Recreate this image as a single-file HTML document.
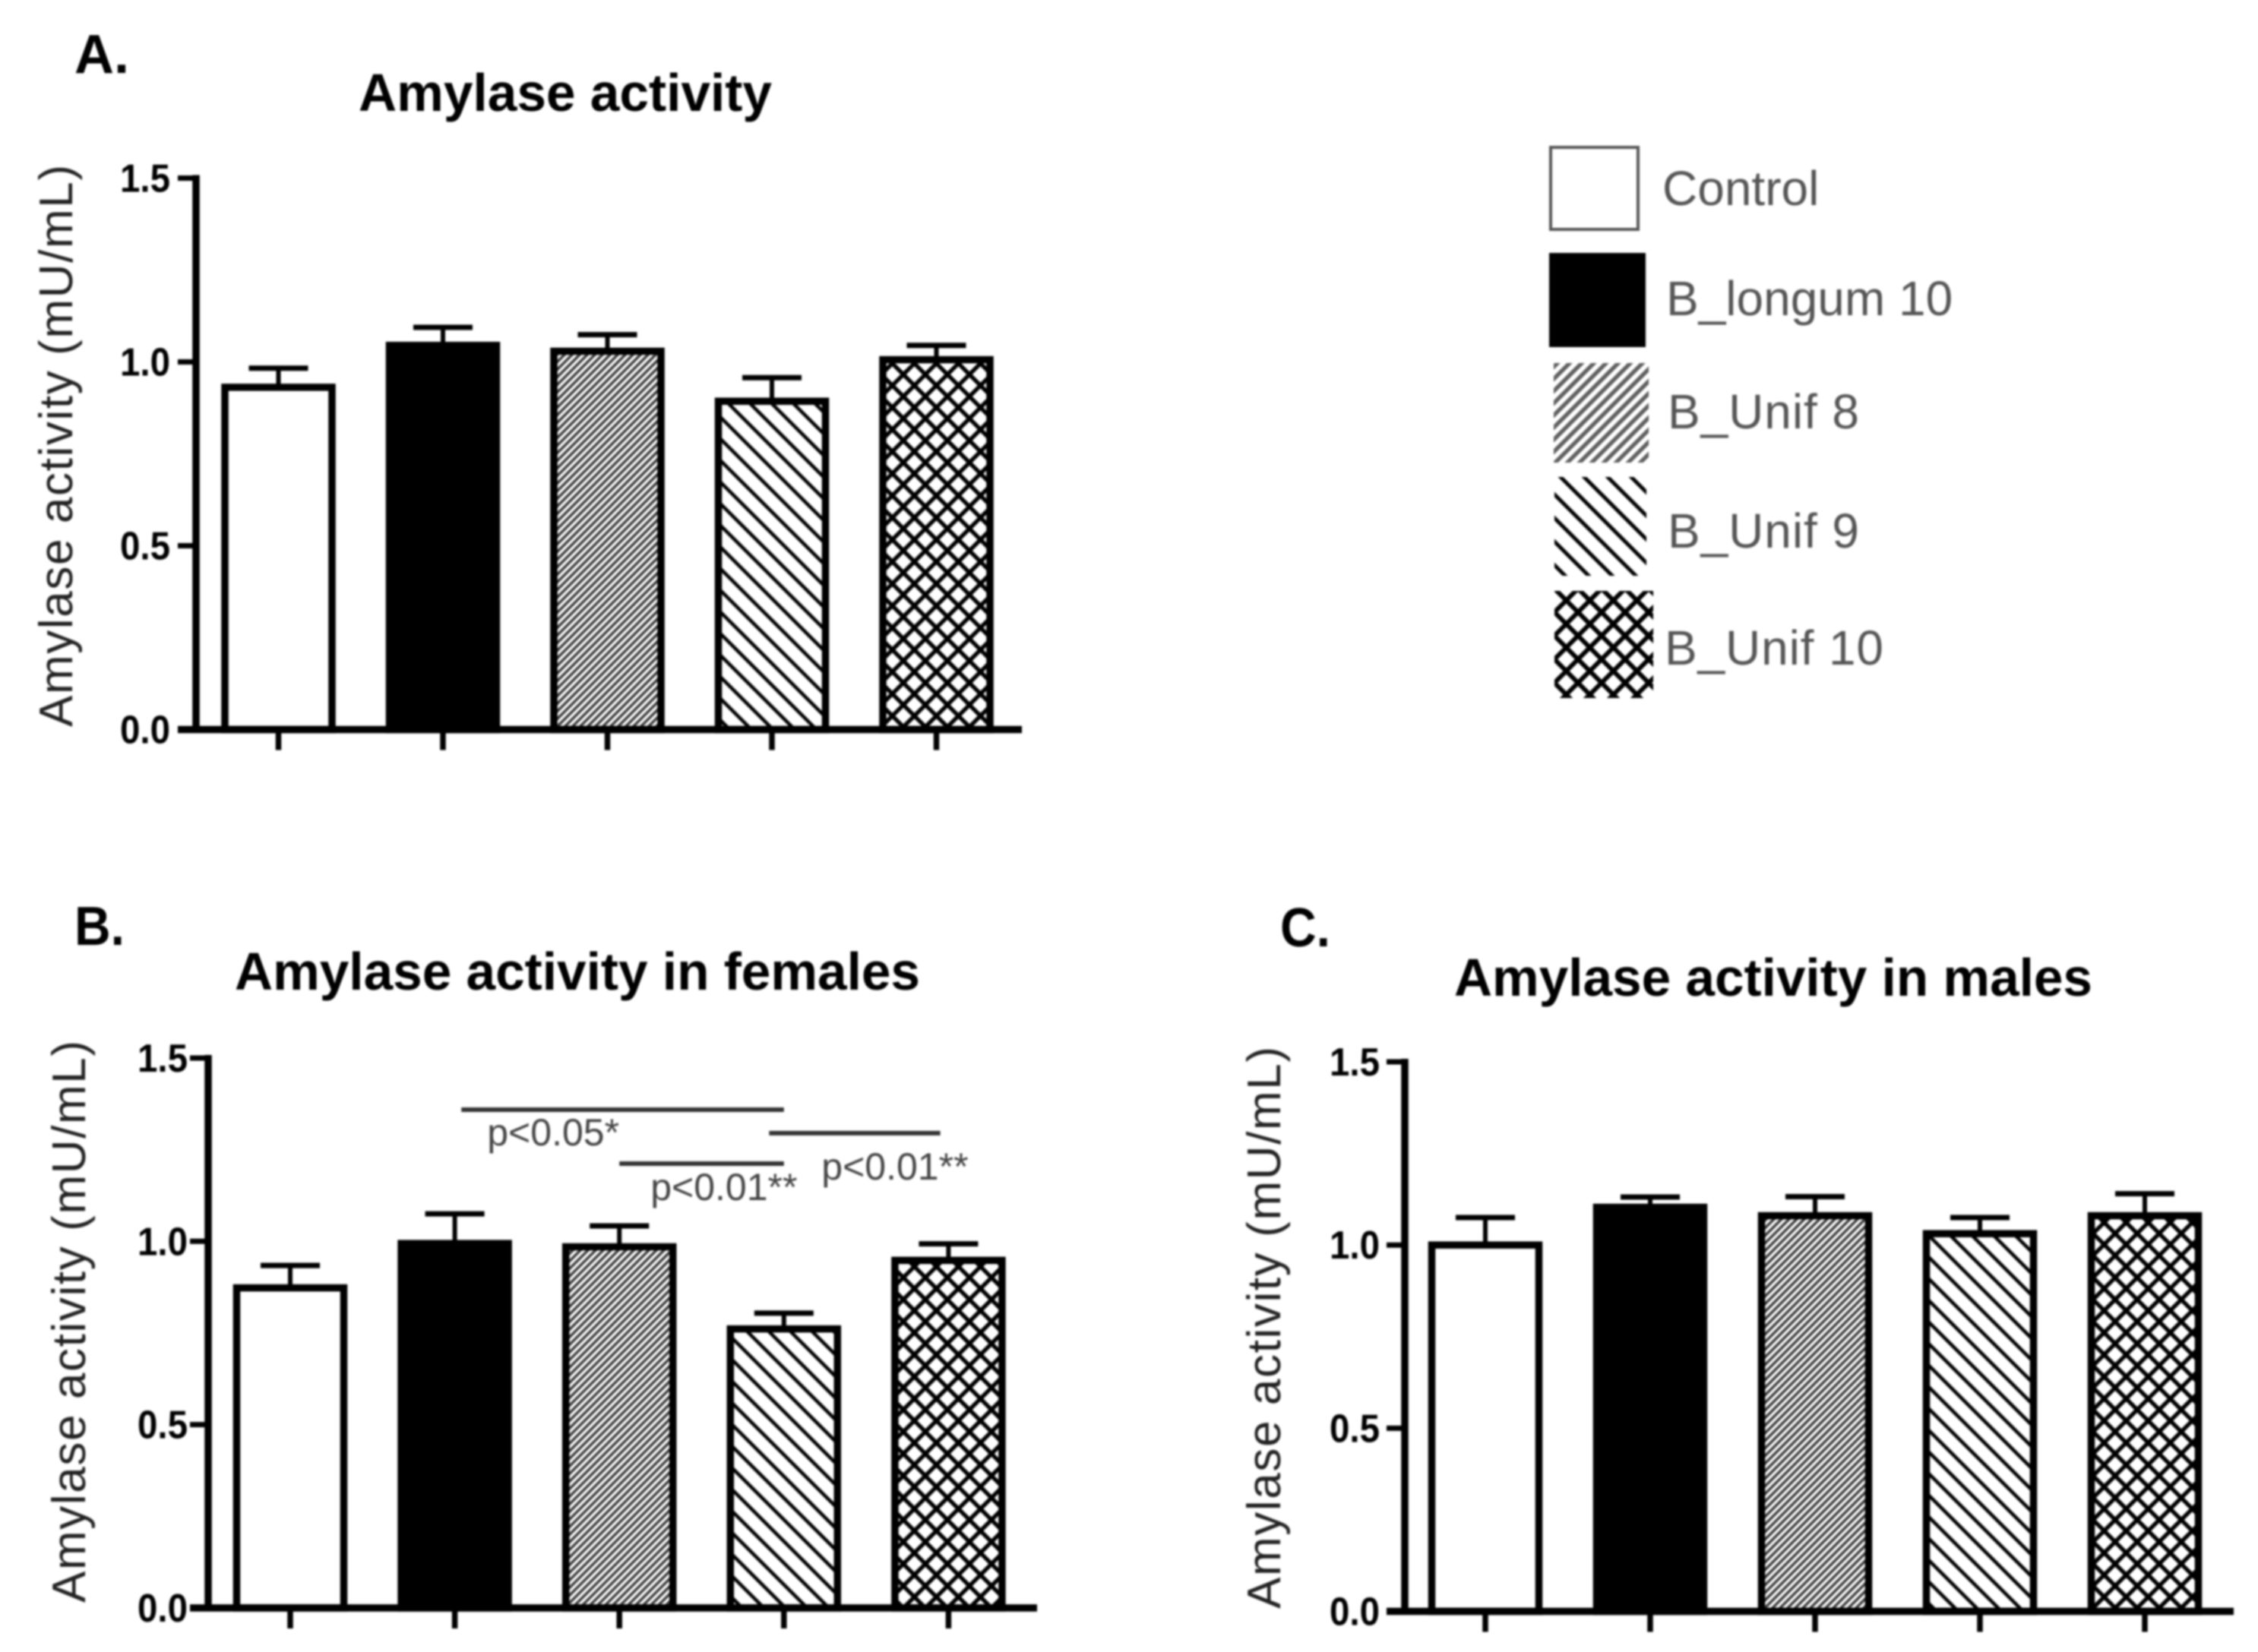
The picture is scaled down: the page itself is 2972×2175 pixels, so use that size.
<!DOCTYPE html>
<html lang="en">
<head>
<meta charset="utf-8">
<title>Amylase activity</title>
<style>
html,body{margin:0;padding:0;background:#fff;}
svg{display:block;filter:blur(1.4px);}
text{font-family:"Liberation Sans",sans-serif;}
</style>
</head>
<body>
<svg id="chart" xmlns="http://www.w3.org/2000/svg" width="2972" height="2175" viewBox="0 0 2972 2175">
<defs>
<pattern id="hatch-fine" patternUnits="userSpaceOnUse" width="10" height="10">
<rect width="10" height="10" fill="#fff"/>
<path d="M-3,3 L3,-3 M-3,13 L13,-3 M7,13 L13,7" stroke="#3a3a3a" stroke-width="3.6" fill="none"/>
</pattern>
<pattern id="hatch-wide" patternUnits="userSpaceOnUse" width="28.5" height="28.5">
<rect width="28.5" height="28.5" fill="#fff"/>
<path d="M-6,-6 L34.5,34.5 M-6,22.5 L6,34.5 M22.5,-6 L34.5,6" stroke="#000" stroke-width="4.6" fill="none"/>
</pattern>
<pattern id="hatch-cross" patternUnits="userSpaceOnUse" width="29" height="29">
<rect width="29" height="29" fill="#fff"/>
<path d="M-5,-5 L34,34 M-5,34 L34,-5" stroke="#000" stroke-width="5.4" fill="none"/>
</pattern>
<pattern id="legend-hatch-fine" patternUnits="userSpaceOnUse" width="16" height="16">
<rect width="16" height="16" fill="#fff"/>
<path d="M-4,4 L4,-4 M-4,20 L20,-4 M12,20 L20,12" stroke="#5f5f5f" stroke-width="5.4" fill="none"/>
</pattern>
<pattern id="legend-hatch-wide" patternUnits="userSpaceOnUse" width="31" height="31">
<rect width="31" height="31" fill="#fff"/>
<path d="M-6,-6 L37,37 M-6,25 L6,37 M25,-6 L37,6" stroke="#000" stroke-width="5" fill="none"/>
</pattern>
<pattern id="legend-hatch-cross" patternUnits="userSpaceOnUse" width="31" height="31">
<rect width="31" height="31" fill="#fff"/>
<path d="M-5,-5 L36,36 M-5,36 L36,-5" stroke="#000" stroke-width="6" fill="none"/>
</pattern>
</defs>
<rect width="2972" height="2175" fill="#fff"/>

<text x="98" y="96" font-size="72" font-weight="700" textLength="72" lengthAdjust="spacingAndGlyphs">A.</text>
<text x="98" y="1244" font-size="72" font-weight="700" textLength="66" lengthAdjust="spacingAndGlyphs">B.</text>
<text x="1685" y="1246" font-size="72" font-weight="700" textLength="66" lengthAdjust="spacingAndGlyphs">C.</text>

<text x="472" y="146" font-size="70" font-weight="700" textLength="544" lengthAdjust="spacingAndGlyphs">Amylase activity</text>
<text x="309" y="1303" font-size="70" font-weight="700" textLength="902" lengthAdjust="spacingAndGlyphs">Amylase activity in females</text>
<text x="1914" y="1311" font-size="70" font-weight="700" textLength="840" lengthAdjust="spacingAndGlyphs">Amylase activity in males</text>

<g id="legend">
<rect x="2041" y="194" width="115" height="108" fill="#fff" stroke="#555" stroke-width="4"/>
<rect x="2039" y="333" width="127" height="124" fill="#000"/>
<rect x="2045" y="478" width="125" height="131" fill="url(#legend-hatch-fine)"/>
<rect x="2046" y="628" width="121" height="130" fill="url(#legend-hatch-wide)"/>
<rect x="2046" y="778" width="130" height="141" fill="url(#legend-hatch-cross)"/>
<text x="2188" y="270" font-size="64" fill="#555">Control</text>
<text x="2193" y="415" font-size="64" fill="#555">B_longum 10</text>
<text x="2195" y="564" font-size="64" fill="#555" textLength="252" lengthAdjust="spacing">B_Unif 8</text>
<text x="2195" y="721" font-size="64" fill="#555" textLength="252" lengthAdjust="spacing">B_Unif 9</text>
<text x="2191" y="875" font-size="64" fill="#555" textLength="288" lengthAdjust="spacing">B_Unif 10</text>
</g>
</svg>
<script>
const categories = ['control', 'b-longum-10', 'b-unif-8', 'b-unif-9', 'b-unif-10'];
const tickLabels = ['0.0', '0.5', '1.0', '1.5'];
const tickValues = [0, 0.5, 1.0, 1.5];
const panelAValues = [0.931, 1.045, 1.029, 0.893, 1.006];
const panelAUpper = [0.983, 1.094, 1.074, 0.957, 1.045];
const panelBValues = [0.873, 0.994, 0.985, 0.761, 0.948];
const panelBUpper = [0.934, 1.075, 1.042, 0.804, 0.993];
const panelCValues = [1.0, 1.103, 1.08, 1.031, 1.08];
const panelCUpper = [1.075, 1.131, 1.132, 1.075, 1.14];
const sigFrom = [1.04, 2.91, 2.0];
const sigTo = [3.0, 3.95, 3.0];
const sigLevel = [1.359, 1.295, 1.212];
const sigLabels = ['p<0.05*', 'p<0.01**', 'p<0.01**'];

const SVGNS = 'http://www.w3.org/2000/svg';
const root = document.getElementById('chart');
const fills = ['#fff', '#000', 'url(#hatch-fine)', 'url(#hatch-wide)', 'url(#hatch-cross)'];

function make(tag, parent, attrs, text) {
  const el = document.createElementNS(SVGNS, tag);
  for (const k in attrs) el.setAttribute(k, attrs[k]);
  if (text !== undefined) el.textContent = text;
  parent.appendChild(el);
  return el;
}

function drawPanel(id, frame, values, upper) {
  const yScale = v => frame.y0 - v * frame.unit;
  const xScale = i => frame.c0 + i * frame.step;

  const g = make('g', root, {});
  
  

  values.forEach((v, i) => {
    const cx = xScale(i);
    const top = yScale(v);
    const stem = make('line', g, {x1: cx, x2: cx, y1: top, y2: yScale(upper[i]), stroke: '#000', 'stroke-width': 6});
    
    
    const cap = make('line', g, {x1: cx - 39, x2: cx + 39, y1: yScale(upper[i]), y2: yScale(upper[i]), stroke: '#000', 'stroke-width': 7});
    
    
    const bar = make('rect', g, {x: cx - 70.5, y: top, width: 141, height: frame.y0 - top, fill: fills[i], stroke: '#000', 'stroke-width': 9.5});
    
    
    const tick = make('line', g, {x1: cx, x2: cx, y1: frame.y0, y2: frame.y0 + 27, stroke: '#000', 'stroke-width': 7.5});
    
    
  });

  const yAxis = make('line', g, {x1: frame.x0, x2: frame.x0, y1: yScale(1.5) - 4, y2: frame.y0 + 4, stroke: '#000', 'stroke-width': 9.5});
  
  
  const xAxis = make('line', g, {x1: frame.x0 - 24, x2: frame.xEnd, y1: frame.y0, y2: frame.y0, stroke: '#000', 'stroke-width': 9.5});
  
  

  tickValues.forEach((t, i) => {
    const y = yScale(t);
    const tick = make('line', g, {x1: frame.x0 - 24, x2: frame.x0, y1: y, y2: y, stroke: '#000', 'stroke-width': 7});
    
    
    const label = make('text', g, {x: frame.x0 - frame.labelGap - 66, y: y + 18, 'font-size': 52, 'font-weight': 700, textLength: 66, lengthAdjust: 'spacingAndGlyphs'}, tickLabels[i]);
    
    
  });

  const title = make('text', g, {
    transform: 'translate(' + frame.labelX + ',' + frame.labelBottom + ') rotate(-90)',
    'font-size': 62, fill: '#222', textLength: 740, lengthAdjust: 'spacing'
  }, 'Amylase activity (mU/mL)');
  
  

  return {xScale, yScale, g};
}

const frameA = {x0: 258, y0: 960.5, unit: 484, c0: 366.5, step: 216.5, xEnd: 1345, labelGap: 34, labelX: 95, labelBottom: 957};
const frameB = {x0: 274, y0: 2117, unit: 482.7, c0: 382, step: 216.6, xEnd: 1365, labelGap: 27, labelX: 112, labelBottom: 2110};
const frameC = {x0: 1849, y0: 2121.5, unit: 482.3, c0: 1955, step: 217, xEnd: 2940, labelGap: 33, labelX: 1685, labelBottom: 2118};

drawPanel('a', frameA, panelAValues, panelAUpper);
const panelB = drawPanel('b', frameB, panelBValues, panelBUpper);
drawPanel('c', frameC, panelCValues, panelCUpper);

const labelOffsetX = [34, 69, 41];
const labelOffsetY = [47, 61, 48];
sigLabels.forEach((s, i) => {
  const x1 = panelB.xScale(sigFrom[i]);
  const x2 = panelB.xScale(sigTo[i]);
  const y = panelB.yScale(sigLevel[i]);
  const line = make('line', panelB.g, {x1: x1, x2: x2, y1: y, y2: y, stroke: '#333', 'stroke-width': 6});
  
  
  const label = make('text', panelB.g, {x: x1 + labelOffsetX[i], y: y + labelOffsetY[i], 'font-size': 50, fill: '#444'}, s);
  
  
});
</script>
</body>
</html>
